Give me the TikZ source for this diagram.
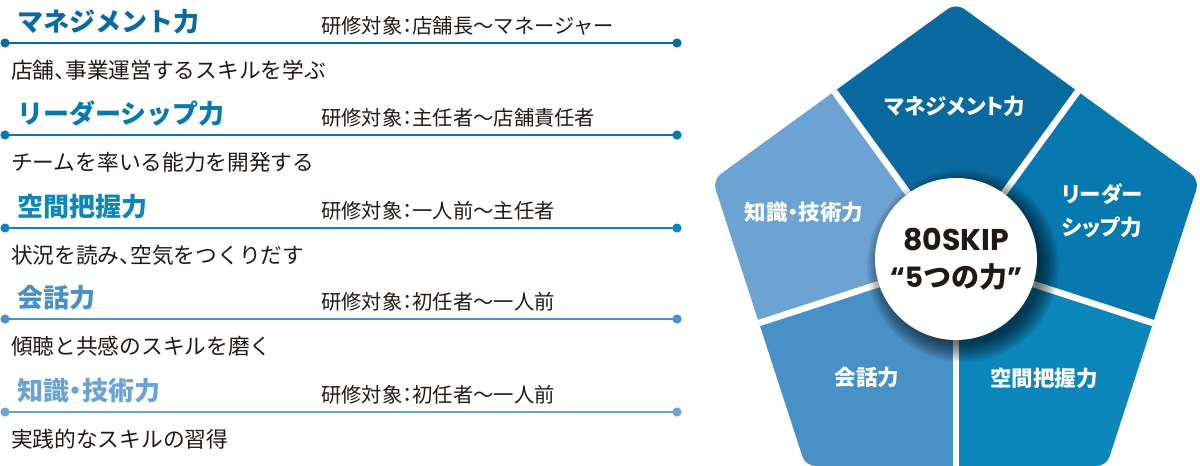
\documentclass[tikz,border=0pt]{standalone}
\usepackage{fontspec}
\setmainfont{Noto Sans CJK JP}
\newfontfamily\pop{Poppins}
\newcommand\pnarrow[1]{{\addfontfeatures{RawFeature=+palt}#1}}
\usetikzlibrary{calc}
\definecolor{cA}{HTML}{0A6AA0}
\definecolor{cB}{HTML}{0879AF}
\definecolor{cC}{HTML}{0C86BB}
\definecolor{cD}{HTML}{4891C6}
\definecolor{cE}{HTML}{6CA3D2}
\definecolor{ink}{HTML}{231815}
\begin{document}
\begin{tikzpicture}[x=1pt,y=-1pt,
  ttl/.style={anchor=west,inner sep=0pt,font=\fontsize{26}{30}\selectfont\bfseries},
  tgt/.style={anchor=west,inner sep=0pt,text=ink,font=\fontsize{20.3}{24}\selectfont},
  bdy/.style={anchor=west,inner sep=0pt,text=ink,font=\fontsize{21.7}{26}\selectfont},
  rule/.style={line width=2.4pt},
  seglabel/.style={text=white,inner sep=0pt,align=center,font=\fontsize{21.5}{33}\selectfont\bfseries\addfontfeatures{RawFeature=+palt}},
  sep/.style={white,line width=6.5pt}]
\useasboundingbox (0,0) rectangle (1200,466);
% ---------- left list ----------
\foreach \i/\y/\col/\ttext/\gtext/\btext in {
  1/43/cA/マネジメント力/研修対象\pnarrow{：}店舗長〜マネージャー/店舗\pnarrow{、}事業運営するスキルを学ぶ,
  2/135/cB/リーダーシップ力/研修対象\pnarrow{：}主任者〜店舗責任者/チームを率いる能力を開発する,
  3/228/cC/空間把握力/研修対象\pnarrow{：}一人前〜主任者/状況を読み\pnarrow{、}空気をつくりだす,
  4/319/cD/会話力/研修対象\pnarrow{：}初任者〜一人前/傾聴と共感のスキルを磨く,
  5/412/cE/知識\pnarrow{・}技術力/研修対象\pnarrow{：}初任者〜一人前/実践的なスキルの習得}{
  \coordinate (la\i) at (5,\y);
  \coordinate (lb\i) at (677,\y);
  \draw[rule,\col] (la\i) -- (lb\i);
  \fill[\col] (la\i) circle (4.6pt);
  \fill[\col] (lb\i) circle (4.6pt);
  \node[ttl,text=\col] (title\i) at (17,\y-21.5) {\ttext};
  \node[tgt] (target\i) at (321,\y-17) {\gtext};
  \node[bdy] (body\i) at (11,\y+27) {\btext};
}
% ---------- pentagon ----------
\coordinate (O) at (956,259);
\coordinate (V1) at ($(O)+(90:256pt)$);
\coordinate (V2) at ($(O)+(18:256pt)$);
\coordinate (V3) at ($(O)+(-54:256pt)$);
\coordinate (V4) at ($(O)+(-126:256pt)$);
\coordinate (V5) at ($(O)+(162:256pt)$);
\coordinate (M12) at ($(V1)!0.5!(V2)$);
\coordinate (M23) at ($(V2)!0.5!(V3)$);
\coordinate (M34) at ($(V3)!0.5!(V4)$);
\coordinate (M45) at ($(V4)!0.5!(V5)$);
\coordinate (M51) at ($(V5)!0.5!(V1)$);
\begin{scope}
  \clip[rounded corners=10pt] (V1) -- (V2) -- (V3) -- (V4) -- (V5) -- cycle;
  \fill[cA] (O) -- ($(O)!1.2!(M51)$) -- ($(O)!1.2!(V1)$) -- ($(O)!1.2!(M12)$) -- cycle;
  \fill[cB] (O) -- ($(O)!1.2!(M12)$) -- ($(O)!1.2!(V2)$) -- ($(O)!1.2!(M23)$) -- cycle;
  \fill[cC] (O) -- ($(O)!1.2!(M23)$) -- ($(O)!1.2!(V3)$) -- ($(O)!1.2!(M34)$) -- cycle;
  \fill[cD] (O) -- ($(O)!1.2!(M34)$) -- ($(O)!1.2!(V4)$) -- ($(O)!1.2!(M45)$) -- cycle;
  \fill[cE] (O) -- ($(O)!1.2!(M45)$) -- ($(O)!1.2!(V5)$) -- ($(O)!1.2!(M51)$) -- cycle;
  \draw[sep] (O) -- ($(O)!1.2!(M12)$);
  \draw[sep] (O) -- ($(O)!1.2!(M23)$);
  \draw[sep] (O) -- ($(O)!1.2!(M34)$);
  \draw[sep] (O) -- ($(O)!1.2!(M45)$);
  \draw[sep] (O) -- ($(O)!1.2!(M51)$);
  % shadow
  \foreach \r in {96,94,...,78}{
    \fill[black,opacity=0.075] ($(O)+(7pt,-7pt)$) circle (\r pt);
  }
\end{scope}
\node[circle,fill=white,minimum size=162pt,inner sep=0pt] (hub) at (O) {};
\node[inner sep=0pt,text=ink,font=\fontsize{30}{32}\selectfont\pop\bfseries] (hubA) at (956,240) {80SKIP};
\node[inner sep=0pt,text=ink,font=\fontsize{28}{32}\selectfont\bfseries] (hubB) at (956,277) {{\pop “5}つの力{\pop ”}};
% segment labels
\node[seglabel] (sA) at (955,106) {マネジメント力};
\node[seglabel] (sB) at (1102,211) {リーダー\\シップ力};
\node[seglabel] (sC) at (1044,378) {空間把握力};
\node[seglabel] (sD) at (867,377) {会話力};
\node[seglabel] (sE) at (804,212) {知識・技術力};
\end{tikzpicture}
\end{document}
